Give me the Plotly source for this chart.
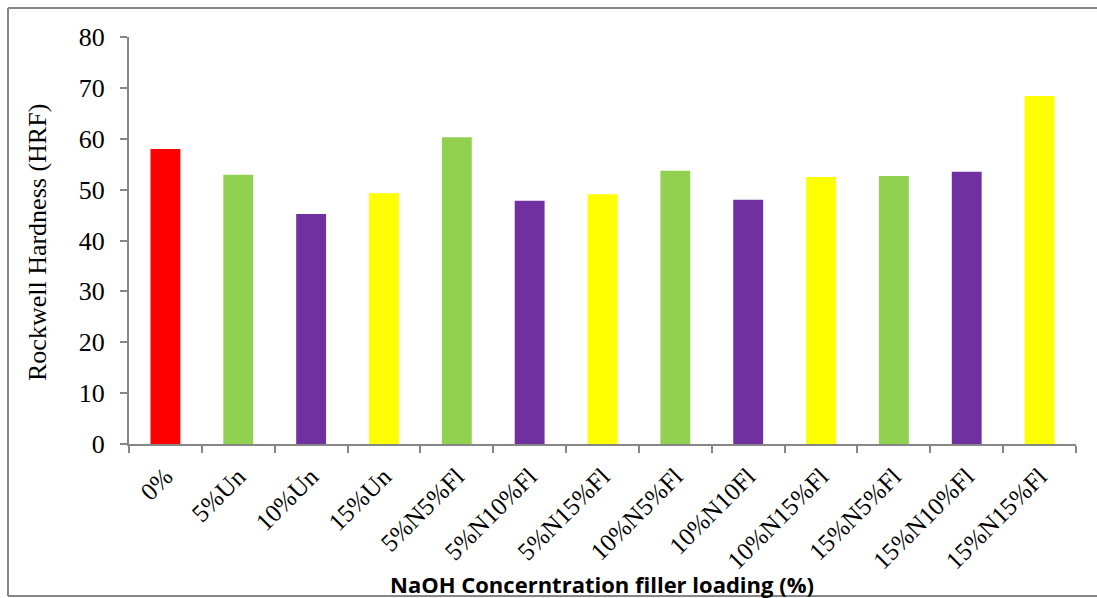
import plotly.graph_objects as go

# Rockwell hardness per sample
categories = ["0%", "5%Un", "10%Un", "15%Un", "5%N5%Fl", "5%N10%Fl", "5%N15%Fl",
              "10%N5%Fl", "10%N10Fl", "10%N15%Fl", "15%N5%Fl", "15%N10%Fl", "15%N15%Fl"]
hardness = [58.0, 52.9, 45.2, 49.3, 60.3, 47.8, 49.1, 53.7, 48.0, 52.5, 52.7, 53.5, 68.4]
bar_colors = ["#FF0000", "#92D050", "#7030A0", "#FFFF00", "#92D050", "#7030A0", "#FFFF00",
              "#92D050", "#7030A0", "#FFFF00", "#92D050", "#7030A0", "#FFFF00"]
y_ticks = [0, 10, 20, 30, 40, 50, 60, 70, 80]

axis_grey = "#868686"
serif = "Liberation Serif, Times New Roman, serif"

fig = go.Figure(go.Bar(x=categories, y=hardness, marker=dict(color=bar_colors, line=dict(width=0))))

W, H = 1097, 598
L, R, T, B = 129, 21, 37, 154
pw, ph = W - L - R, H - T - B

def px_x(p):
    return (p - L) / pw

def px_y(p):
    return (H - B - p) / ph

# open chart frame: left, top and bottom edges only
frame_left, frame_right, frame_top, frame_bottom = 8, 1097, 8, 596
frame_edges = [
    (frame_left, frame_top, frame_right, frame_top),
    (frame_left, frame_bottom, frame_right, frame_bottom),
    (frame_left, frame_top, frame_left, frame_bottom),
]
shapes = [
    dict(type="line", xref="paper", yref="paper",
         x0=px_x(a), y0=px_y(b), x1=px_x(c), y1=px_y(d),
         line=dict(color=axis_grey, width=2), layer="below")
    for a, b, c, d in frame_edges
]

fig.update_layout(
    width=W, height=H,
    margin=dict(l=L, r=R, t=T, b=B),
    paper_bgcolor="white", plot_bgcolor="white",
    bargap=0.59,
    showlegend=False,
    xaxis=dict(
        showline=True, linecolor=axis_grey, linewidth=2,
        ticks="outside", tickson="boundaries", ticklen=7, tickcolor=axis_grey, tickwidth=2,
        tickangle=-45, tickfont=dict(family=serif, size=25, color="black"),
        ticklabelstandoff=6,
        showgrid=False,
    ),
    yaxis=dict(
        range=[0, 80], tickvals=y_ticks,
        showline=True, linecolor=axis_grey, linewidth=2,
        ticks="outside", ticklen=7, tickcolor=axis_grey, tickwidth=2,
        tickfont=dict(family=serif, size=26, color="black"),
        ticklabelstandoff=10,
        showgrid=False, zeroline=False,
    ),
    shapes=shapes,
    annotations=[
        dict(text="Rockwell Hardness (HRF)", xref="paper", yref="paper",
             x=px_x(37), y=px_y(243), textangle=-90, showarrow=False,
             font=dict(family=serif, size=26, color="black"),
             xanchor="center", yanchor="middle"),
        dict(text="<b>NaOH Concerntration filler loading (%)</b>", xref="paper", yref="paper",
             x=px_x(602), y=px_y(584), showarrow=False,
             font=dict(family="Open Sans, Liberation Sans, sans-serif", size=22, color="black"),
             xanchor="center", yanchor="middle"),
    ],
)

fig.write_html("out.html")
